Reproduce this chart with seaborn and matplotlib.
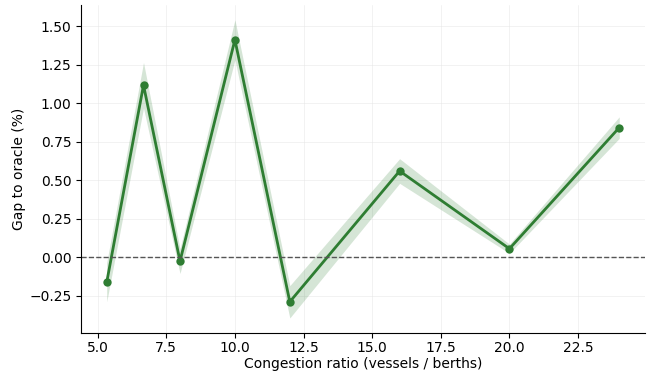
import matplotlib
matplotlib.use("Agg")
import matplotlib.pyplot as plt
import seaborn as sns
import numpy as np

# congestion ratio vs gap to oracle
ratio = [5.33, 6.67, 8.0, 10.0, 12.0, 16.0, 20.0, 24.0]
gap = [-0.163, 1.118, -0.026, 1.413, -0.29, 0.56, 0.055, 0.842]
gap_lo = [-0.29, 0.97, -0.106, 1.283, -0.395, 0.48, 0.025, 0.772]
gap_hi = [-0.035, 1.265, 0.054, 1.543, -0.185, 0.64, 0.085, 0.912]

green = "#2e7d32"

sns.set_style("ticks", {"axes.edgecolor": "black", "text.color": "black",
                        "axes.labelcolor": "black", "xtick.color": "black",
                        "ytick.color": "black"})
plt.rcParams['font.family'] = ['DejaVu Sans']

fig, ax = plt.subplots(figsize=(6.54, 3.74), dpi=100)
ax.fill_between(ratio, gap_lo, gap_hi, color=green, alpha=0.2, linewidth=0)
sns.lineplot(x=ratio, y=gap, ax=ax, color=green, marker="o", markersize=6,
             markeredgewidth=0, linewidth=2)
ax.axhline(0, color="#555555", linestyle="--", linewidth=1)

ax.set_xlabel("Congestion ratio (vessels / berths)", labelpad=1)
ax.set_ylabel("Gap to oracle (%)", labelpad=2)
ax.tick_params(axis="x", pad=2.5)
ax.grid(True, color="#e6e6e6", linewidth=0.6, alpha=0.6)
sns.despine(ax=ax)

fig.subplots_adjust(left=0.124, right=0.986, top=0.987, bottom=0.110)
fig.savefig("out.png", dpi=100)
